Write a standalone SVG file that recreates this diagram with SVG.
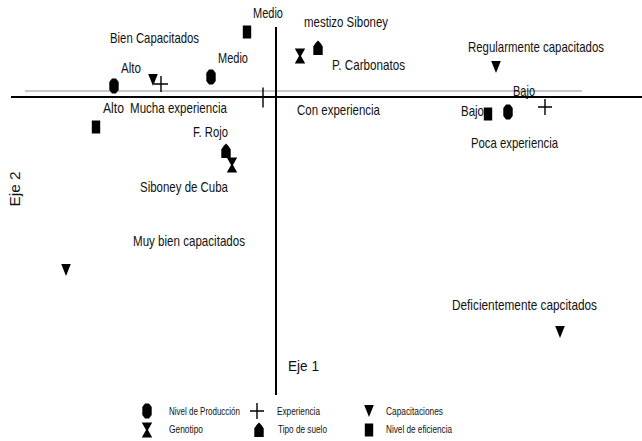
<svg xmlns="http://www.w3.org/2000/svg" xmlns:xlink="http://www.w3.org/1999/xlink" width="642" height="441" viewBox="0 0 642 441">
<style>
text{font-family:"Liberation Sans",Arial,sans-serif;font-size:15px;fill:#111;}
.lg{font-size:11px;}
.mk{fill:#000;}
.pl{fill:none;stroke:#000;stroke-width:1.4;}
.ax{stroke:#000;stroke-width:2;fill:none;}
.gr{stroke:#c8c8c8;stroke-width:2;fill:none;}
</style>
<defs>
<path id="oct" class="mk" d="M-2,-7.5 L2,-7.5 L4.7,-4 L4.7,4 L2,7.5 L-2,7.5 L-4.7,4 L-4.7,-4 Z"/>
<path id="tri" class="mk" d="M-4.8,-6 L4.8,-6 L0,6 Z"/>
<path id="plus" class="pl" d="M-7,0 H7 M0,-8 V8"/>
<path id="hg" class="mk" d="M-5.2,-7.5 H5.2 L1,0 L5.2,7.5 H-5.2 L-1,0 Z"/>
<path id="house" class="mk" d="M0,-7.5 Q3,-5 4.7,-1.5 L4.7,7 L-4.7,7 L-4.7,-1.5 Q-3,-5 0,-7.5 Z"/>
<rect id="sq" class="mk" x="-4.2" y="-6.5" width="8.4" height="13"/>
</defs>
<g id="connectors">
<line class="gr" x1="25" y1="91" x2="582" y2="91"/>
<line class="ax" x1="11" y1="97" x2="642" y2="97"/>
<line class="ax" x1="276" y1="27" x2="276" y2="395"/>
</g>
<g id="axis-labels">
<text x="288" y="371" textLength="31" lengthAdjust="spacingAndGlyphs">Eje 1</text>
<text transform="translate(20,189) rotate(-90)" text-anchor="middle" textLength="35" lengthAdjust="spacingAndGlyphs">Eje 2</text>
</g>
<g id="eficiencia-medio"><use xlink:href="#sq" x="247" y="32"/><text x="253" y="18" textLength="30" lengthAdjust="spacingAndGlyphs">Medio</text></g>
<g id="genotipo-mestizo"><use xlink:href="#hg" x="300" y="56"/><text x="304" y="27" textLength="84" lengthAdjust="spacingAndGlyphs">mestizo Siboney</text></g>
<g id="suelo-carbonatos"><use xlink:href="#house" x="318" y="48"/><text x="332" y="70" textLength="73" lengthAdjust="spacingAndGlyphs">P. Carbonatos</text></g>
<g id="capac-bien"><use xlink:href="#tri" x="153" y="80"/><text x="110" y="43" textLength="89" lengthAdjust="spacingAndGlyphs">Bien Capacitados</text></g>
<g id="prod-medio"><use xlink:href="#oct" x="211" y="77"/><text x="218" y="63" textLength="30" lengthAdjust="spacingAndGlyphs">Medio</text></g>
<g id="prod-alto"><use xlink:href="#oct" x="114" y="86"/><text x="121" y="73" textLength="20" lengthAdjust="spacingAndGlyphs">Alto</text></g>
<g id="exp-mucha"><use xlink:href="#plus" x="161" y="84"/><text x="130" y="113" textLength="97" lengthAdjust="spacingAndGlyphs">Mucha experiencia</text></g>
<g id="eficiencia-alto"><use xlink:href="#sq" x="96" y="127"/><text x="103" y="113" textLength="21" lengthAdjust="spacingAndGlyphs">Alto</text></g>
<g id="exp-con"><path class="pl" d="M256,97 H270 M263,87.5 V107.5"/><text x="297" y="115" textLength="83" lengthAdjust="spacingAndGlyphs">Con experiencia</text></g>
<g id="suelo-rojo"><use xlink:href="#house" x="226" y="151"/><text x="193" y="137" textLength="35" lengthAdjust="spacingAndGlyphs">F. Rojo</text></g>
<g id="genotipo-cuba"><use xlink:href="#hg" x="232" y="165"/><text x="140" y="192" textLength="88" lengthAdjust="spacingAndGlyphs">Siboney de Cuba</text></g>
<g id="capac-muybien"><use xlink:href="#tri" x="66" y="270"/><text x="133" y="246" textLength="112" lengthAdjust="spacingAndGlyphs">Muy bien capacitados</text></g>
<g id="capac-regular"><use xlink:href="#tri" x="496" y="67"/><text x="468" y="52" textLength="136" lengthAdjust="spacingAndGlyphs">Regularmente capacitados</text></g>
<g id="prod-bajo"><use xlink:href="#oct" x="508" y="112"/><text x="513" y="96" textLength="22" lengthAdjust="spacingAndGlyphs">Bajo</text></g>
<g id="eficiencia-bajo"><use xlink:href="#sq" x="488" y="114"/><text x="461" y="116" textLength="23" lengthAdjust="spacingAndGlyphs">Bajo</text></g>
<g id="exp-poca"><use xlink:href="#plus" x="545" y="107"/><text x="471" y="148" textLength="87" lengthAdjust="spacingAndGlyphs">Poca experiencia</text></g>
<g id="capac-deficiente"><use xlink:href="#tri" x="560" y="332"/><text x="452" y="310" textLength="145" lengthAdjust="spacingAndGlyphs">Deficientemente capcitados</text></g>
<g id="legend">
<use xlink:href="#oct" x="147" y="411"/><text class="lg" x="169" y="415" textLength="71" lengthAdjust="spacingAndGlyphs">Nivel de Producción</text>
<use xlink:href="#plus" x="257" y="411"/><text class="lg" x="277" y="415" textLength="43" lengthAdjust="spacingAndGlyphs">Experiencia</text>
<use xlink:href="#tri" x="369" y="411"/><text class="lg" x="386" y="415" textLength="57" lengthAdjust="spacingAndGlyphs">Capacitaciones</text>
<use xlink:href="#hg" x="147" y="430"/><text class="lg" x="169" y="433" textLength="34" lengthAdjust="spacingAndGlyphs">Genotipo</text>
<use xlink:href="#house" x="259" y="430"/><text class="lg" x="278" y="433" textLength="49" lengthAdjust="spacingAndGlyphs">Tipo de suelo</text>
<use xlink:href="#sq" x="369" y="430"/><text class="lg" x="386" y="433" textLength="66" lengthAdjust="spacingAndGlyphs">Nivel de eficiencia</text>
</g>
</svg>
